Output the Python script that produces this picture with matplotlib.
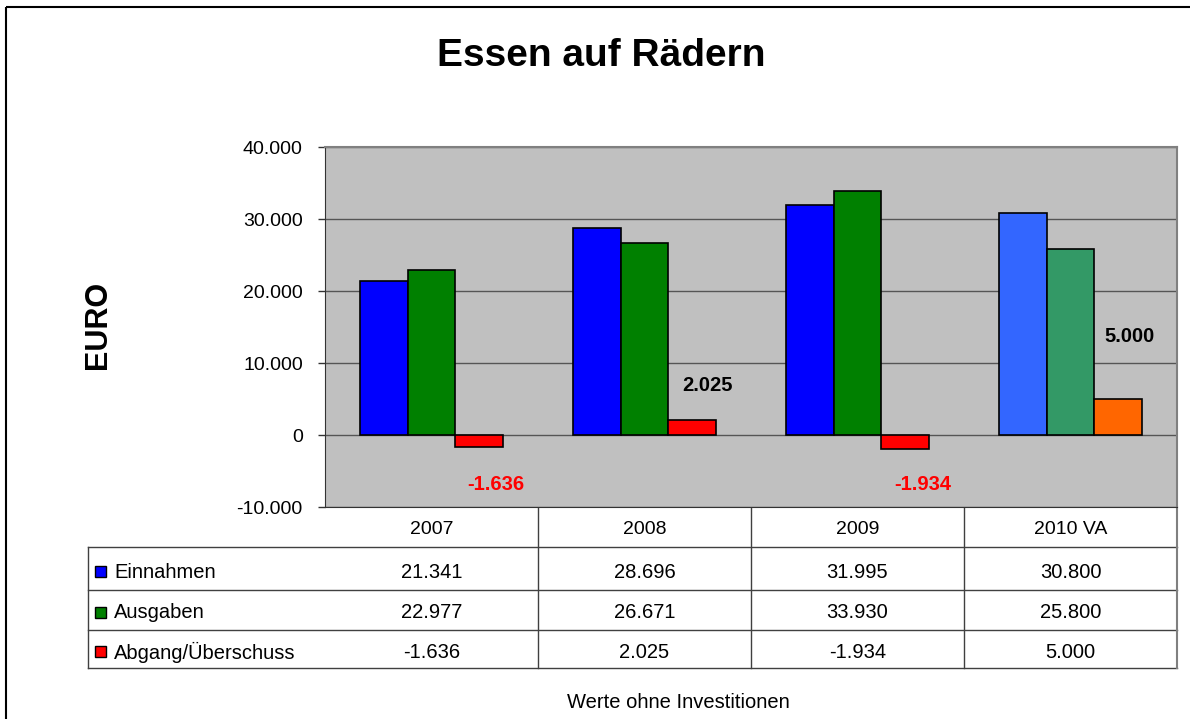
import matplotlib
matplotlib.use("Agg")
import matplotlib.pyplot as plt
from matplotlib.patches import Rectangle

plt.rcParams['font.family'] = ['Liberation Sans', 'DejaVu Sans']

# data
years = ["2007", "2008", "2009", "2010 VA"]
einnahmen = [21341, 28696, 31995, 30800]
ausgaben = [22977, 26671, 33930, 25800]
saldo = [-1636, 2025, -1934, 5000]
series_names = ["Einnahmen", "Ausgaben", "Abgang/Überschuss"]
series_colors = ["#0000FF", "#008000", "#FF0000"]
colors_2010 = ["#3366FF", "#339966", "#FF6600"]   # forecast year drawn lighter
yticks = [-10000, 0, 10000, 20000, 30000, 40000]

# label offsets in pixels (dx, dy) for the saldo labels, dy up is positive
label_offset = [(16, -38), (15, 35), (17, -36), (11, 62)]


def de(v):
    # german thousands separator
    return f"{v:,}".replace(",", ".")


W, H = 1190, 719
fig = plt.figure(figsize=(W / 100, H / 100), dpi=100, facecolor="white")

ax = fig.add_axes([325 / W, 1 - 507 / H, 852 / W, 360 / H])
ax.set_facecolor("#C0C0C0")
ax.set_xlim(-0.5, len(years) - 0.5)
ax.set_ylim(yticks[0], yticks[-1])

w = 0.225
series = [einnahmen, ausgaben, saldo]
for k, vals in enumerate(series):
    cols = [series_colors[k]] * (len(years) - 1) + [colors_2010[k]]
    xs = [i + (k - 1) * w for i in range(len(years))]
    ax.bar(xs, vals, width=w, color=cols, edgecolor="black", linewidth=1.2, zorder=3)

for i, v in enumerate(saldo):
    dx, dy = label_offset[i]
    ax.annotate(de(v), xy=(i + w, v), xytext=(dx, dy), textcoords="offset pixels",
                ha="center", va="center", fontsize=14.5, fontweight="bold",
                color="#FF0000" if v < 0 else "black", zorder=4)

ax.set_yticks(yticks)
ax.set_yticklabels([de(v) for v in yticks], fontsize=14)
ax.tick_params(axis="y", length=5, width=1, direction="out", pad=11, color="#333333")
ax.set_xticks([])
ax.yaxis.grid(True, color="#555555", linewidth=1)
ax.set_axisbelow(True)
for s in ["top", "right"]:
    ax.spines[s].set_color("#808080")
    ax.spines[s].set_linewidth(1.5)
ax.spines["left"].set_color("#333333")
ax.spines["bottom"].set_color("#333333")

# overlay in pixel coordinates for frame, table and texts
ov = fig.add_axes([0, 0, 1, 1], zorder=-1)
ov.set_xlim(0, W)
ov.set_ylim(H, 0)
ov.axis("off")

ov.add_patch(Rectangle((6, 7), 1400, 900, fill=False, edgecolor="black", linewidth=1.5))

fig.text(601 / W, 1 - 56 / H, "Essen auf Rädern", fontsize=28, fontweight="bold",
         ha="center", va="center")
fig.text(98 / W, 1 - 325 / H, "EURO", fontsize=22, fontweight="bold", rotation=90,
         ha="center", va="center")

# table
fig.canvas.draw()
bounds = [ax.transData.transform((i - 0.5, 0))[0] for i in range(len(years) + 1)]
centers = [(bounds[i] + bounds[i + 1]) / 2 for i in range(len(years))]
line_c = "#404040"
row_lines = [547, 590, 630, 668]
for y in row_lines:
    ov.plot([88, bounds[-1]], [y, y], color=line_c, lw=1)
ov.plot([88, 88], [547, 668], color=line_c, lw=1)
for b in bounds[1:-1]:
    ov.plot([b, b], [507, 668], color=line_c, lw=1)
ov.plot([bounds[-1], bounds[-1]], [507, 668], color="#808080", lw=1.5)

for i, yr in enumerate(years):
    ov.text(centers[i], 528, yr, fontsize=14, ha="center", va="center_baseline")

row_y = [570, 611, 650]
for k, vals in enumerate(series):
    ov.add_patch(Rectangle((95, row_y[k] - 4), 11, 11, facecolor=series_colors[k],
                           edgecolor="black", linewidth=1))
    ov.text(114, row_y[k], series_names[k], fontsize=14.5, ha="left", va="center_baseline")
    for i, v in enumerate(vals):
        ov.text(centers[i], row_y[k], de(v), fontsize=14.5, ha="center",
                va="center_baseline")

fig.text(678 / W, 1 - 700 / H, "Werte ohne Investitionen", fontsize=14.5,
         ha="center", va="center_baseline")

fig.savefig("out.png", dpi=100, facecolor="white")
